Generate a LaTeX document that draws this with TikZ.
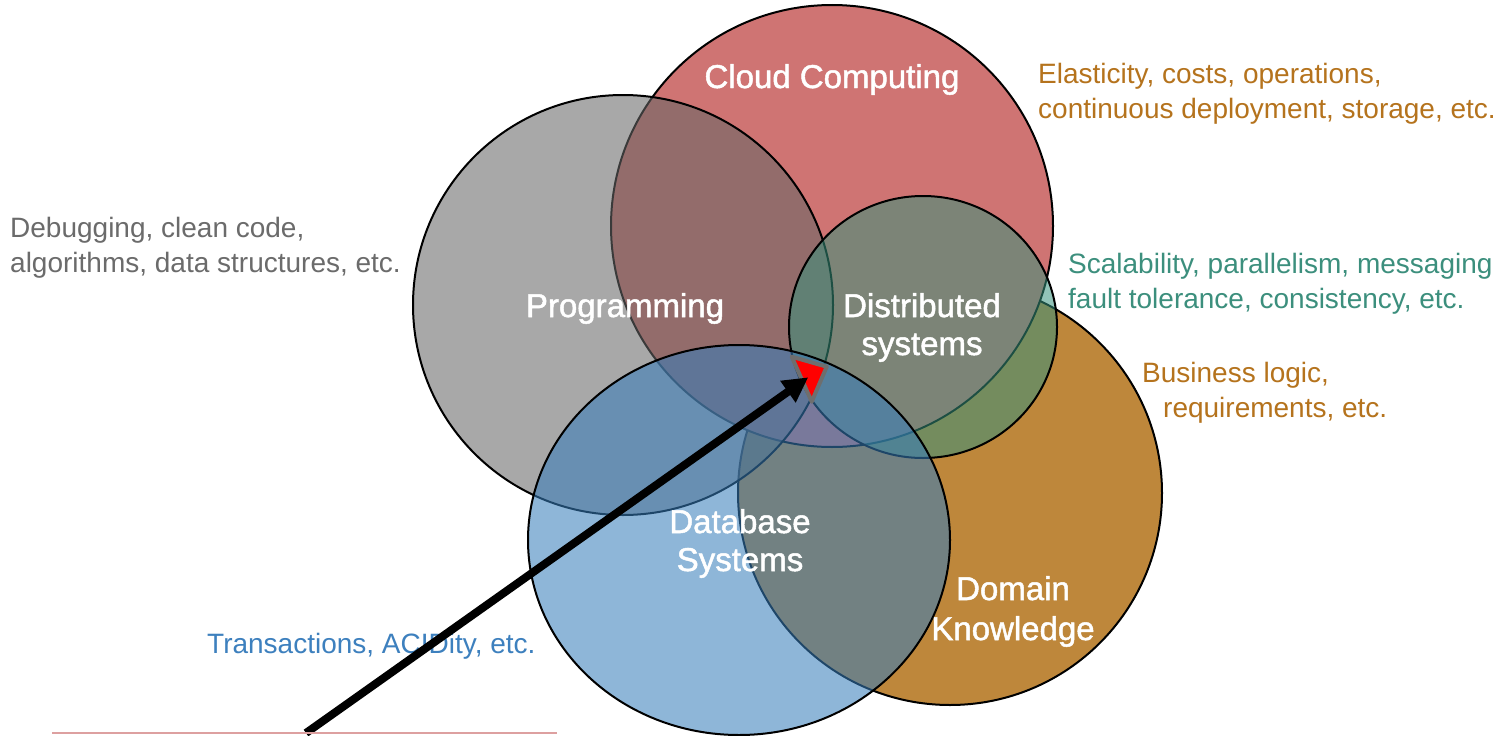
\documentclass[tikz,border=0pt]{standalone}
\usepackage{fontspec}
\setmainfont{Liberation Sans}
\newfontfamily\areafont{Liberation Sans}[FakeBold=1.5]
\usetikzlibrary{arrows.meta}

% area fills
\definecolor{cloudfill}{HTML}{CF7473}
\definecolor{domainfill}{HTML}{BE873B}
\definecolor{progfill}{HTML}{666666}
\definecolor{distfill}{HTML}{37927C}
\definecolor{dbfill}{HTML}{377DBB}
% side notes
\definecolor{notegray}{HTML}{6B6B6B}
\definecolor{noteorange}{HTML}{B5731D}
\definecolor{noteteal}{HTML}{3C8F7D}
\definecolor{noteblue}{HTML}{3D80BE}
% marker and rule
\definecolor{markerred}{HTML}{FF0000}
\definecolor{markeredge}{HTML}{6E6E6E}
\definecolor{rulepink}{HTML}{DDA0A0}

% stacked lines whose baseline is the first line's
\newcommand{\rows}[2]{\begin{tabular}[t]{@{}#1@{}}#2\end{tabular}}

\begin{document}
\begin{tikzpicture}[x=1pt,y=-1pt,
  area/.style={draw=black, line width=2pt},
  title/.style={text=white, inner sep=0pt, anchor=base, font=\areafont\fontsize{33}{38}\selectfont},
  note/.style={inner sep=0pt, anchor=base west, font=\fontsize{28}{35}\selectfont},
]
\useasboundingbox (0,0) rectangle (1499,736);
\fill[white] (0,0) rectangle (1499,736);

% the five areas, back to front
\draw[area, fill=domainfill] (950,493) circle[radius=212];
\draw[area, fill=cloudfill] (832,226) circle[radius=221];
\draw[area, fill=progfill, fill opacity=0.57] (623,305) circle[radius=210];
\draw[area, fill=distfill, fill opacity=0.54] (923,327) ellipse[x radius=134, y radius=131];
\draw[area, fill=dbfill, fill opacity=0.56] (739,540) ellipse[x radius=211, y radius=195];

% red marker in the common centre
\coordinate (mA) at (791.7,356.7);
\coordinate (mB) at (826.7,366.7);
\coordinate (mC) at (811.7,401.7);
\filldraw[fill=markerred, draw=markeredge, line width=4pt, line join=round] (mA) -- (mB) -- (mC) -- cycle;

% labels inside the areas
\node[title] (cloud) at (832,88) {Cloud Computing};
\node[title] (prog) at (625,317) {Programming};
\node[title] (dist) at (922,317) {\rows{c}{Distributed\\systems}};
\node[title] (db) at (740,533) {\rows{c}{Database\\Systems}};
\node[title, font=\areafont\fontsize{33}{40}\selectfont] (domain) at (1013,600) {\rows{c}{Domain\\Knowledge}};

% side notes
\node[note, text=notegray] (prognote) at (10,237) {\rows{l}{Debugging, clean code,\\algorithms, data structures, etc.}};
\node[note, text=noteorange] (cloudnote) at (1038,83) {\rows{l}{Elasticity, costs, operations,\\continuous deployment, storage, etc.}};
\node[note, text=noteteal] (distnote) at (1068,273) {\rows{l}{Scalability, parallelism, messaging\\fault tolerance, consistency, etc.}};
\node[note, text=noteorange] (domainnote) at (1142,382) {\rows{l}{Business logic,\\\hspace*{21pt}requirements, etc.}};
\node[note, text=noteblue] (dbnote) at (207,653) {Transactions, ACIDity, etc.};

% pointer
\coordinate (tail) at (306,733);
\coordinate (tip) at (808.3,377.3);
\draw[line width=8pt, -{Triangle[length=25pt,width=25pt]}] (tail) -- (tip);

% rule along the bottom
\coordinate (rulewest) at (52,733);
\coordinate (ruleeast) at (557,733);
\draw[rulepink, line width=2pt] (rulewest) -- (ruleeast);
\end{tikzpicture}
\end{document}
